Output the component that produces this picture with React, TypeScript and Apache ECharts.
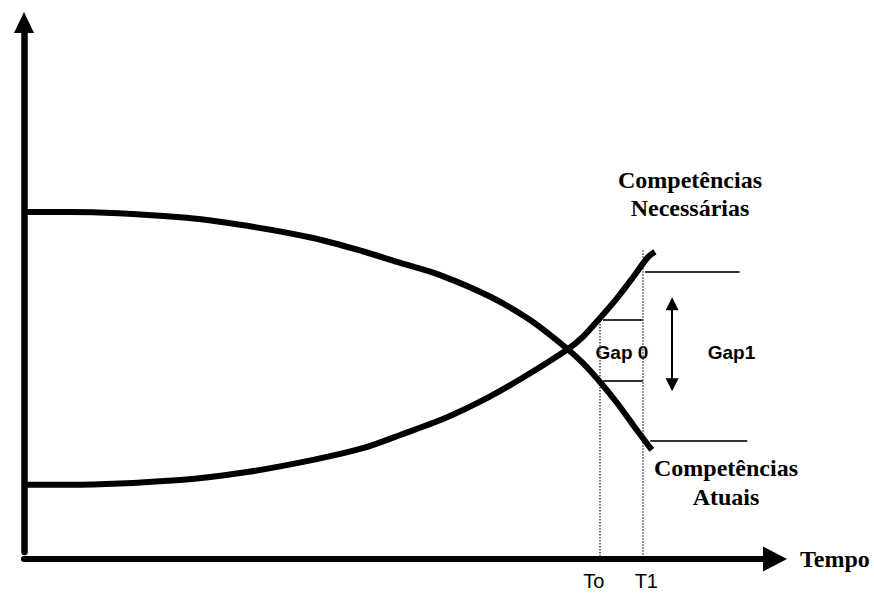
import React, { useEffect, useRef } from "react";
import * as echarts from "echarts";

// Curve "Competências Atuais" (descending)
const atuaisX = [0, 6.1, 20.8, 29.7, 38.5, 45.1, 50.1, 55.4, 62.1, 67.4, 72.4, 74.4, 76.7, 79.0, 81.1, 83.1, 83.6];
const atuaisY = [64.2, 64.2, 63.2, 61.6, 59.3, 56.8, 54.6, 52.3, 48.2, 43.8, 38.3, 35.7, 32.1, 28.1, 24.0, 20.2, 19.3];

// Curve "Competências Necessárias" (rising)
const necessariasX = [0, 6.1, 20.8, 29.7, 38.5, 45.1, 50.1, 56.1, 61.7, 66.4, 72.4, 74.4, 76.7, 79.0, 81.1, 83.1, 84.0];
const necessariasY = [12.7, 12.7, 13.6, 15.1, 17.4, 19.6, 22.1, 25.3, 29.1, 32.9, 38.3, 40.6, 44.2, 48.0, 51.9, 55.7, 56.7];

// Time markers
const tickValues = [76.6, 82.4];
const tickLabels = ["To", "T1"];
const markerTops = [44.2, 57.0];
const markerBottom = -0.8;

// Gap 0 bracket lines (at To .. T1)
const gap0Levels = [43.8, 32.3];
const gap0From = 77.1;
const gap0To = 82.4;

// Gap 1 lines (right of T1)
const gap1Levels = [52.9, 21.0];
const gap1From = [82.7, 83.4];
const gap1To = [95.3, 96.3];

// Gap 1 double arrow
const arrowX = 86.3;
const arrowRange = [46.9, 31.6];

export default function App() {
  const ref = useRef<HTMLDivElement>(null);

  useEffect(() => {
    if (!ref.current) return;
    const chart = echarts.init(ref.current, undefined, { renderer: "svg" });

    const atuais = atuaisX.map((x, i) => [x, atuaisY[i]]);
    const necessarias = necessariasX.map((x, i) => [x, necessariasY[i]]);

    const dotted = tickValues.map((x, i) => ({
      coords: [
        [x, markerTops[i]],
        [x, markerBottom],
      ],
    }));
    const thin = [
      ...gap0Levels.map((y) => ({ coords: [[gap0From, y], [gap0To, y]] })),
      ...gap1Levels.map((y, i) => ({ coords: [[gap1From[i], y], [gap1To[i], y]] })),
    ];

    const serif = "Liberation Serif";
    const sans = "Liberation Sans";

    chart.setOption({
      animation: false,
      backgroundColor: "#ffffff",
      grid: {
        left: 24,
        right: 99,
        top: 22.5,
        bottom: 41,
        containLabel: false,
        outerBoundsMode: "none",
      },
      xAxis: {
        type: "value",
        min: 0,
        max: 100,
        offset: 7,
        axisLine: {
          show: true,
          onZero: false,
          symbol: ["none", "triangle"],
          symbolSize: [25, 24],
          lineStyle: { color: "#000", width: 6 },
        },
        axisTick: { show: false },
        splitLine: { show: false },
        axisLabel: {
          show: true,
          customValues: tickValues,
          margin: 12,
          formatter: (v: number) => {
            const idx = tickValues.findIndex((t) => Math.abs(t - v) < 1e-6);
            const lbl = idx >= 0 ? tickLabels[idx] : "";
            return idx === 0 ? `{a|${lbl}}` : `{b|${lbl}}`;
          },
          rich: {
            a: { fontFamily: sans, fontSize: 20, lineHeight: 20, color: "#000", padding: [0, 11, 0, 0] },
            b: { fontFamily: sans, fontSize: 20, lineHeight: 20, color: "#000", padding: [0, 0, 0, 7] },
          },
        },
        name: "Tempo",
        nameLocation: "end",
        nameGap: 25,
        nameTextStyle: {
          fontFamily: serif,
          fontWeight: "bold",
          fontSize: 24,
          color: "#000",
          verticalAlign: "middle",
        },
      },
      yAxis: {
        type: "value",
        min: 0,
        max: 100,
        axisLine: {
          show: true,
          onZero: false,
          symbol: ["none", "triangle"],
          symbolSize: [20, 21],
          lineStyle: { color: "#000", width: 6.5 },
        },
        axisTick: { show: false },
        axisLabel: { show: false },
        splitLine: { show: false },
      },
      series: [
        {
          type: "line",
          name: "Competências Atuais",
          data: atuais,
          smooth: 0.3,
          showSymbol: false,
          symbol: "none",
          clip: false,
          lineStyle: { color: "#000", width: 6 },
          z: 5,
        },
        {
          type: "line",
          name: "Competências Necessárias",
          data: necessarias,
          smooth: 0.3,
          showSymbol: false,
          symbol: "none",
          clip: false,
          lineStyle: { color: "#000", width: 6 },
          z: 5,
        },
        {
          type: "lines",
          coordinateSystem: "cartesian2d",
          clip: false,
          data: dotted,
          symbol: ["none", "none"],
          lineStyle: { color: "#444", width: 1.5, type: [1.5, 1.5], opacity: 1 },
          z: 3,
        },
        {
          type: "lines",
          coordinateSystem: "cartesian2d",
          clip: false,
          data: thin,
          symbol: ["none", "none"],
          lineStyle: { color: "#333", width: 2, opacity: 1 },
          z: 3,
        },
        {
          type: "lines",
          coordinateSystem: "cartesian2d",
          clip: false,
          data: [{ coords: [[arrowX, arrowRange[0]], [arrowX, arrowRange[1]]] }],
          symbol: ["triangle", "triangle"],
          symbolSize: 13,
          lineStyle: { color: "#000", width: 2, opacity: 1 },
          itemStyle: { color: "#000" },
          z: 3,
        },
      ],
      graphic: [
        {
          type: "text",
          silent: true,
          style: {
            text: "Competências\nNecessárias",
            x: 690,
            y: 194,
            align: "center",
            verticalAlign: "middle",
            fontFamily: serif,
            fontWeight: "bold",
            fontSize: 24,
            lineHeight: 28,
            fill: "#000",
          },
        },
        {
          type: "text",
          silent: true,
          style: {
            text: "Competências\nAtuais",
            x: 726,
            y: 482.5,
            align: "center",
            verticalAlign: "middle",
            fontFamily: serif,
            fontWeight: "bold",
            fontSize: 24,
            lineHeight: 29,
            fill: "#000",
          },
        },
        {
          type: "text",
          silent: true,
          style: {
            text: "Gap 0",
            x: 622,
            y: 352,
            align: "center",
            verticalAlign: "middle",
            fontFamily: sans,
            fontWeight: "bold",
            fontSize: 19,
            fill: "#000",
          },
        },
        {
          type: "text",
          silent: true,
          style: {
            text: "Gap1",
            x: 731.5,
            y: 352,
            align: "center",
            verticalAlign: "middle",
            fontFamily: sans,
            fontWeight: "bold",
            fontSize: 19,
            fill: "#000",
          },
        },
      ],
    });

    return () => {
      chart.dispose();
    };
  }, []);

  return (
    <div
      ref={ref}
      style={{ position: "fixed", left: 0, top: 0, width: 874, height: 593, background: "#fff" }}
    />
  );
}
